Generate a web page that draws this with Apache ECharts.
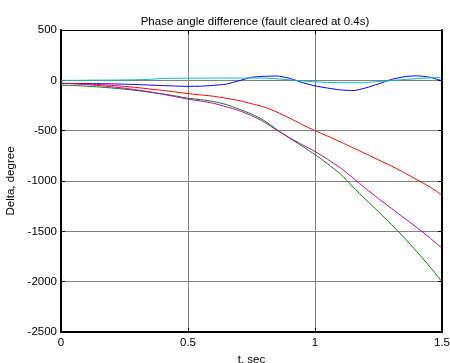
<!DOCTYPE html>
<html>
<head>
<meta charset="utf-8">
<script src="https://cdn.jsdelivr.net/npm/echarts@6/dist/echarts.min.js"></script>
<style>
  html, body { margin: 0; padding: 0; background: #fff; }
  #chart { width: 450px; height: 363px; }
</style>
</head>
<body>
<div id="chart"></div>
<script>
// time axis (s) and phase angle differences (degree)
const tValues = [0, 0.05, 0.1, 0.15, 0.2, 0.25, 0.3, 0.35, 0.4, 0.45, 0.5, 0.55, 0.6, 0.65, 0.7, 0.75,
  0.8, 0.85, 0.9, 0.95, 1.0, 1.05, 1.1, 1.15, 1.2, 1.25, 1.3, 1.35, 1.4, 1.45, 1.5];
const blueDelta = [-30, -31, -32, -33, -35, -38, -42, -47, -52, -57, -60, -58, -50, -38, -5, 30,
  40, 43, 20, -22, -55, -77, -95, -102, -75, -35, 8, 35, 45, 32, -4];
const greenDelta = [-47, -52, -58, -66, -76, -88, -102, -118, -135, -155, -178, -192, -210, -240, -285, -335,
  -400, -490, -575, -655, -738, -830, -930, -1060, -1185, -1305, -1430, -1560, -1700, -1845, -2000];
const redDelta = [-30, -32, -36, -42, -50, -60, -72, -86, -100, -115, -132, -145, -158, -178, -200, -232,
  -265, -315, -375, -440, -500, -555, -612, -670, -730, -790, -850, -915, -985, -1055, -1139];
const cyanDelta = [0, 0, 1, 2, 3, 4, 6, 10, 18, 20, 21, 22, 23, 23, 23, 23,
  22, 15, 5, -5, -15, -20, -23, -24, -22, -12, -2, 8, 16, 24, 30];
const magentaDelta = [-30, -35, -42, -52, -64, -78, -95, -115, -138, -162, -187, -205, -228, -262, -300, -350,
  -415, -495, -570, -640, -707, -785, -870, -970, -1075, -1175, -1270, -1365, -1460, -1560, -1668];

const xTicks = [0, 0.5, 1, 1.5];
const yTicks = [-2500, -2000, -1500, -1000, -500, 0, 500];

const seriesDefs = [
  { name: "b", values: blueDelta, color: "#0000ff" },
  { name: "g", values: greenDelta, color: "#008000" },
  { name: "r", values: redDelta, color: "#ff0000" },
  { name: "c", values: cyanDelta, color: "#00bfbf" },
  { name: "m", values: magentaDelta, color: "#bf00bf" },
];

const font = "'Liberation Sans', Arial, sans-serif";
const chart = echarts.init(document.getElementById("chart"));

const baseX = {
  type: "value",
  min: xTicks[0],
  max: xTicks[xTicks.length - 1],
  interval: xTicks[1] - xTicks[0],
};
const baseY = {
  type: "value",
  min: yTicks[0],
  max: yTicks[yTicks.length - 1],
  interval: yTicks[1] - yTicks[0],
};

chart.setOption({
  animation: false,
  title: {
    text: "Phase angle difference (fault cleared at 0.4s)",
    left: 250,
    textAlign: "center",
    top: 11,
    textStyle: { fontFamily: font, fontSize: 11.5, fontWeight: "normal", color: "#000" },
  },
  grid: { left: 61, right: 8, top: 30, bottom: 31, outerBoundsMode: "none" },
  xAxis: [
    {
      ...baseX,
      position: "bottom",
      name: "t, sec",
      nameLocation: "middle",
      nameGap: 18,
      nameTextStyle: { fontFamily: font, fontSize: 11.5, color: "#000" },
      axisLine: { onZero: false, lineStyle: { color: "#000", width: 2 } },
      axisTick: { inside: true, length: 4, lineStyle: { color: "#000" } },
      axisLabel: { fontFamily: font, fontSize: 11.5, color: "#000", margin: 5, formatter: (v) => String(v) },
      splitLine: { show: true, lineStyle: { color: "#808080", width: 1 } },
    },
    {
      ...baseX,
      position: "top",
      axisLine: { onZero: false, lineStyle: { color: "#000", width: 1 } },
      axisTick: { inside: true, length: 4, lineStyle: { color: "#000" } },
      axisLabel: { show: false },
      splitLine: { show: false },
    },
  ],
  yAxis: [
    {
      ...baseY,
      position: "left",
      name: "Delta, degree",
      nameLocation: "middle",
      nameGap: 38,
      nameTextStyle: { fontFamily: font, fontSize: 11.5, color: "#000" },
      axisLine: { onZero: false, lineStyle: { color: "#000", width: 2 } },
      axisTick: { inside: true, length: 4, lineStyle: { color: "#000" } },
      axisLabel: { fontFamily: font, fontSize: 11.5, color: "#000", margin: 4, formatter: (v) => String(v) },
      splitLine: { show: true, lineStyle: { color: "#808080", width: 1 } },
    },
    {
      ...baseY,
      position: "right",
      axisLine: { onZero: false, lineStyle: { color: "#000", width: 2 } },
      axisTick: { inside: true, length: 4, lineStyle: { color: "#000" } },
      axisLabel: { show: false },
      splitLine: { show: false },
    },
  ],
  series: seriesDefs.map((s) => ({
    name: s.name,
    type: "line",
    xAxisIndex: 0,
    yAxisIndex: 0,
    showSymbol: false,
    symbol: "none",
    smooth: 0.2,
    lineStyle: { color: s.color, width: 1 },
    data: tValues.map((t, i) => [t, s.values[i]]),
  })),
});
</script>
</body>
</html>
